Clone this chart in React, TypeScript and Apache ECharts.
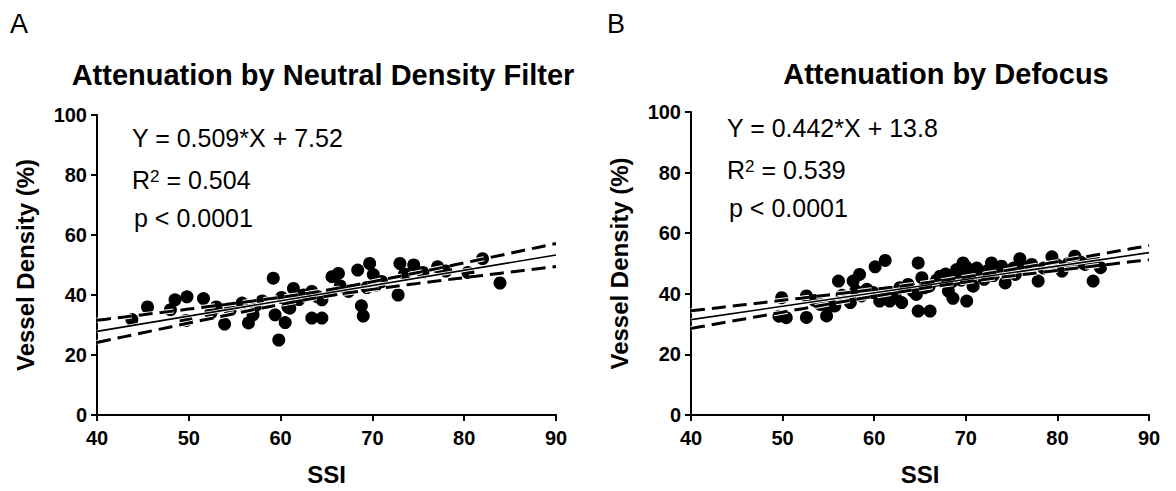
import React, { useEffect, useRef } from 'react';
import * as echarts from 'echarts';

// ---- data ----
const ssiTicks = [40, 50, 60, 70, 80, 90];
const vdTicks = [0, 20, 40, 60, 80, 100];

// Panel A: attenuation by neutral density filter
const ndfSSI = [43.8, 45.5, 48.0, 48.5, 49.8, 49.7, 51.6, 52.4, 53.0, 53.9, 54.5, 55.8, 56.5, 57.0, 57.3, 58.0,
  59.2, 59.4, 59.8, 60.1, 60.5, 60.8, 61.0, 61.4, 62.0, 62.5, 63.4, 63.4, 64.0, 64.5, 64.5, 65.6, 66.3, 66.5,
  67.4, 68.4, 68.8, 69.0, 69.4, 69.7, 70.1, 70.4, 71.0, 72.8, 73.0, 73.5, 74.5, 75.5, 77.1, 78.0, 80.4, 82.0, 83.9];
const ndfVD = [31.8, 36.0, 35.1, 38.4, 39.4, 31.5, 38.8, 34.0, 36.0, 30.3, 35.0, 37.3, 30.7, 33.4, 36.5, 38.0,
  45.6, 33.4, 25.0, 39.2, 30.8, 36.0, 35.6, 42.2, 38.5, 40.0, 41.2, 32.3, 39.5, 32.3, 38.4, 46.1, 47.2, 43.0,
  41.2, 48.3, 36.4, 33.0, 42.5, 50.5, 46.8, 43.3, 44.5, 40.0, 50.5, 47.0, 50.0, 47.5, 49.4, 48.0, 47.5, 52.1, 44.0];

// Panel B: attenuation by defocus
const defSSI = [49.9, 49.6, 50.4, 52.6, 52.6, 53.5, 54.1, 54.8, 55.0, 55.7, 56.1, 56.5, 57.0, 57.4, 57.7, 58.0,
  58.4, 58.6, 59.2, 59.9, 60.1, 60.6, 61.2, 61.2, 61.7, 62.3, 62.8, 63.0, 63.7, 64.2, 64.6, 64.8, 64.8, 65.2,
  65.5, 66.1, 66.0, 66.8, 67.2, 67.8, 68.1, 68.6, 68.5, 69.0, 69.2, 69.7, 69.5, 70.0, 70.1, 70.3, 70.5, 70.8,
  71.2, 71.5, 72.0, 72.3, 72.8, 73.0, 73.5, 73.9, 74.3, 74.5, 75.2, 75.4, 75.9, 76.3, 77.2, 77.9, 78.5, 79.4,
  80.0, 80.5, 81.2, 81.9, 82.5, 83.0, 83.9, 84.0, 84.7];
const defVD = [38.7, 32.6, 32.1, 39.3, 32.2, 37.8, 36.5, 32.7, 35.5, 36.0, 44.2, 39.5, 38.7, 37.1, 44.2, 41.0,
  46.4, 39.3, 41.5, 40.4, 48.9, 37.6, 51.0, 40.5, 37.6, 39.0, 42.0, 37.1, 43.1, 41.0, 39.8, 50.2, 34.3, 45.3,
  42.0, 34.3, 42.5, 44.5, 45.8, 46.5, 40.9, 38.5, 44.0, 48.0, 46.0, 50.2, 44.5, 49.0, 37.6, 47.0, 45.0, 42.5,
  48.5, 46.9, 44.8, 47.5, 50.2, 46.0, 48.0, 49.1, 43.6, 47.0, 48.5, 46.4, 51.6, 49.0, 49.7, 44.2, 48.5, 52.2,
  49.5, 47.5, 50.0, 52.4, 50.5, 49.7, 44.2, 51.0, 48.6];

// linear fits as printed: [slope, intercept]
const ndfFit = [0.509, 7.52];
const defFit = [0.442, 13.8];
// 95% confidence band: [x at narrowest, half-width there, growth per unit x]
const ndfBand = [64.5, 1.0, 0.145];
const defBand = [68, 0.8, 0.0996];

const ndfText = ['Y = 0.509*X + 7.52', '0.504', 'p < 0.0001'];
const defText = ['Y = 0.442*X + 13.8', '0.539', 'p < 0.0001'];

const FONT = '"Liberation Sans", Arial, Helvetica, sans-serif';

function pts(xs: number[], ys: number[]) {
  return xs.map((x, i) => [x, ys[i]]);
}
function fitLine(fit: number[]) {
  return [40, 90].map((x) => [x, fit[0] * x + fit[1]]);
}
function band(fit: number[], b: number[], sign: number) {
  const out: number[][] = [];
  for (let x = 40; x <= 90; x += 1) {
    const hw = Math.sqrt(b[1] * b[1] + Math.pow(b[2] * (x - b[0]), 2));
    out.push([x, fit[0] * x + fit[1] + sign * hw]);
  }
  return out;
}

function axes(gi: number) {
  const common = {
    gridIndex: gi,
    type: 'value' as const,
    axisLine: { show: true, onZero: false, lineStyle: { color: '#000', width: 2 } },
    axisTick: { show: true, length: 6, lineStyle: { color: '#000', width: 2 } },
    splitLine: { show: false },
    nameLocation: 'middle' as const,
    nameTextStyle: { color: '#000', fontWeight: 'bold' as const, fontSize: 24, fontFamily: FONT },
  };
  return {
    x: {
      ...common,
      min: ssiTicks[0],
      max: ssiTicks[ssiTicks.length - 1],
      interval: 10,
      name: 'SSI',
      nameGap: 47,
      axisLabel: { color: '#000', fontWeight: 'bold', fontSize: 20, fontFamily: FONT, margin: 13 },
    },
    y: {
      ...common,
      min: vdTicks[0],
      max: vdTicks[vdTicks.length - 1],
      interval: 20,
      name: 'Vessel Density (%)',
      nameGap: 60,
      axisLabel: { color: '#000', fontWeight: 'bold', fontSize: 20, fontFamily: FONT, margin: 10 },
    },
  };
}

function panelSeries(gi: number, xs: number[], ys: number[], fit: number[], b: number[]) {
  const dash = [14, 7];
  return [
    {
      type: 'scatter', xAxisIndex: gi, yAxisIndex: gi, data: pts(xs, ys), symbol: 'circle', symbolSize: 13,
      itemStyle: { color: '#000', opacity: 1 }, z: 2,
    },
    // white halos beneath the fit lines
    { type: 'line', xAxisIndex: gi, yAxisIndex: gi, data: band(fit, b, 1), showSymbol: false, symbol: 'none',
      lineStyle: { color: '#fff', width: 5, type: dash }, z: 3, silent: true },
    { type: 'line', xAxisIndex: gi, yAxisIndex: gi, data: band(fit, b, -1), showSymbol: false, symbol: 'none',
      lineStyle: { color: '#fff', width: 5, type: dash }, z: 3, silent: true },
    { type: 'line', xAxisIndex: gi, yAxisIndex: gi, data: fitLine(fit), showSymbol: false, symbol: 'none',
      lineStyle: { color: '#fff', width: 3.5 }, z: 3, silent: true },
    { type: 'line', xAxisIndex: gi, yAxisIndex: gi, data: band(fit, b, 1), showSymbol: false, symbol: 'none',
      lineStyle: { color: '#000', width: 3, type: dash }, z: 4, silent: true },
    { type: 'line', xAxisIndex: gi, yAxisIndex: gi, data: band(fit, b, -1), showSymbol: false, symbol: 'none',
      lineStyle: { color: '#000', width: 3, type: dash }, z: 4, silent: true },
    { type: 'line', xAxisIndex: gi, yAxisIndex: gi, data: fitLine(fit), showSymbol: false, symbol: 'none',
      lineStyle: { color: '#000', width: 1.6 }, z: 4, silent: true },
  ];
}

function txt(x: number, y: number, text: string, size: number, weight: string, align = 'left') {
  return {
    type: 'text', x, y, silent: true,
    style: { text, fill: '#000', fontSize: size, fontWeight: weight, fontFamily: FONT, align, verticalAlign: 'middle' },
  };
}
function r2(x: number, y: number, val: string) {
  return {
    type: 'text', x, y, silent: true,
    style: {
      text: '{a|R}{s|2}{a| = ' + val + '}',
      fill: '#000', fontFamily: FONT, verticalAlign: 'middle',
      rich: {
        a: { fontSize: 25, fontFamily: FONT, fill: '#000', verticalAlign: 'bottom' },
        s: { fontSize: 17, fontFamily: FONT, fill: '#000', verticalAlign: 'top' },
      },
    },
  };
}

export default function App() {
  const ref = useRef<HTMLDivElement>(null);
  useEffect(() => {
    if (!ref.current) return;
    const chart = echarts.init(ref.current, undefined, { renderer: 'svg' });
    const a = axes(0);
    const b = axes(1);
    chart.setOption({
      animation: false,
      backgroundColor: '#fff',
      grid: [
        { left: 97, top: 115, width: 459, height: 303 },
        { left: 691, top: 112, width: 458, height: 304 },
      ],
      xAxis: [a.x, b.x],
      yAxis: [a.y, b.y],
      series: [
        ...panelSeries(0, ndfSSI, ndfVD, ndfFit, ndfBand),
        ...panelSeries(1, defSSI, defVD, defFit, defBand),
      ],
      graphic: [
        txt(10, 24, 'A', 27, 'normal'),
        txt(607, 24, 'B', 27, 'normal'),
        txt(323, 75, 'Attenuation by Neutral Density Filter', 29, 'bold', 'center'),
        txt(946, 74, 'Attenuation by Defocus', 29, 'bold', 'center'),
        txt(132, 138, ndfText[0], 25, 'normal'),
        r2(132, 180, ndfText[1]),
        txt(134, 218, ndfText[2], 25, 'normal'),
        txt(727, 128, defText[0], 25, 'normal'),
        r2(727, 170, defText[1]),
        txt(729, 208, defText[2], 25, 'normal'),
      ],
    });
    return () => chart.dispose();
  }, []);
  return (
    <div
      ref={ref}
      style={{ position: 'absolute', left: 0, top: 0, width: 1176, height: 491, background: '#fff' }}
    />
  );
}
